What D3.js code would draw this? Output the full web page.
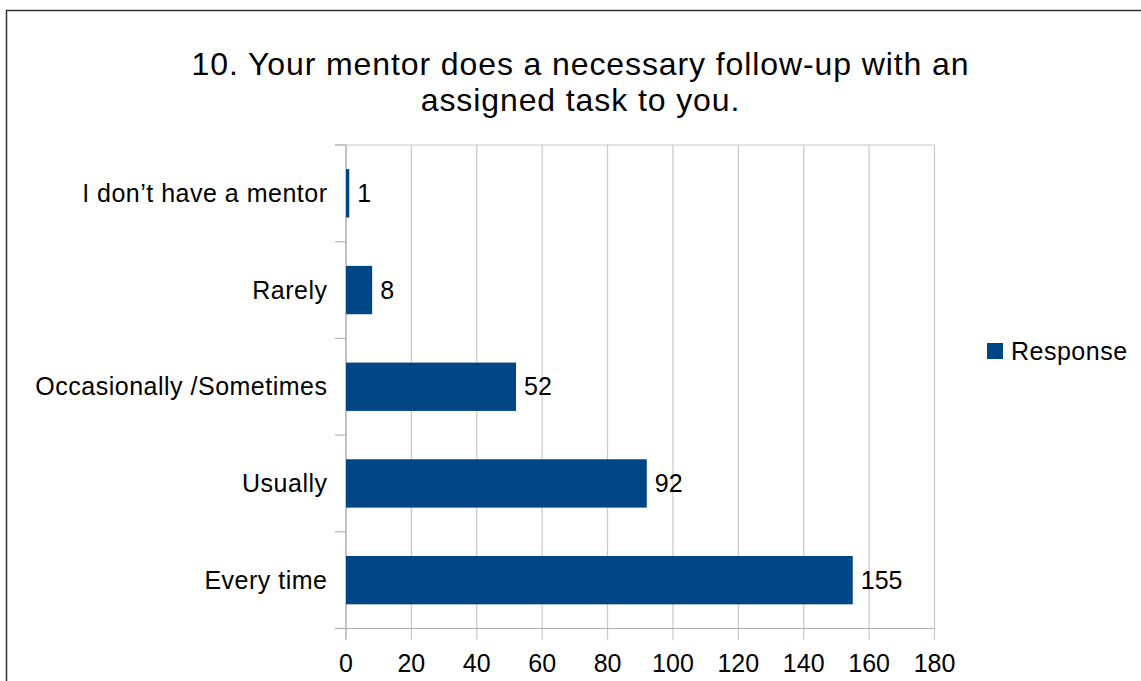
<!DOCTYPE html>
<html><head><meta charset="utf-8">
<script src="https://cdn.jsdelivr.net/npm/d3@7"></script>
<style>body{margin:0;background:#fff}svg{display:block;font-family:"Liberation Sans",Arial,sans-serif}</style>
</head><body>
<svg id="c" width="1141" height="681"></svg>
<script>
const categories = ["I don\u2019t have a mentor", "Rarely", "Occasionally /Sometimes", "Usually", "Every time"];
const values = [1, 8, 52, 92, 155];
const xTicks = [0, 20, 40, 60, 80, 100, 120, 140, 160, 180];
const titleLines = ["10. Your mentor does a necessary follow-up with an", "assigned task to you."];
const seriesName = "Response";

(function () {
const svg = d3.select("#c");
const color = "#004586";
const pLeft = 346, pRight = 934.5, pTop = 145, pBottom = 628.5;

svg.append("rect").attr("x", 6.5).attr("y", 10.5).attr("width", 1200).attr("height", 800)
  .attr("fill", "none").attr("stroke", "#333").attr("stroke-width", 1.5);

svg.selectAll("text.title").data(titleLines).enter().append("text")
  .attr("x", 580.5).attr("y", (d, i) => 75 + i * 36)
  .attr("text-anchor", "middle").attr("font-size", 32).attr("letter-spacing", 0.9)
  .attr("fill", "#000").text(d => d);

const x = d3.scaleLinear().domain([0, 180]).range([pLeft, pRight]);
const y = d3.scaleBand().domain(categories).range([pTop, pBottom]).paddingInner(0.5).paddingOuter(0.25);

svg.append("g").selectAll("line").data(xTicks).enter().append("line")
  .attr("x1", d => x(d)).attr("x2", d => x(d)).attr("y1", pTop).attr("y2", pBottom + 11)
  .attr("stroke", "#c8c8c8").attr("stroke-width", 1.2);
svg.append("line").attr("x1", pLeft - 11).attr("x2", pRight).attr("y1", pTop).attr("y2", pTop)
  .attr("stroke", "#c8c8c8").attr("stroke-width", 1.2);
svg.append("line").attr("x1", pLeft - 11).attr("x2", pRight).attr("y1", pBottom).attr("y2", pBottom)
  .attr("stroke", "#b3b3b3").attr("stroke-width", 1.2);
const step = (pBottom - pTop) / categories.length;
svg.append("g").selectAll("line").data(d3.range(categories.length + 1)).enter().append("line")
  .attr("x1", pLeft - 11).attr("x2", pLeft).attr("y1", i => pTop + i * step).attr("y2", i => pTop + i * step)
  .attr("stroke", "#b3b3b3").attr("stroke-width", 1.2);
svg.append("line").attr("x1", pLeft).attr("x2", pLeft).attr("y1", pTop).attr("y2", pBottom + 11)
  .attr("stroke", "#b3b3b3").attr("stroke-width", 1.2);

svg.append("g").selectAll("text").data(xTicks).enter().append("text")
  .attr("x", d => x(d)).attr("y", 672).attr("text-anchor", "middle")
  .attr("font-size", 25).attr("fill", "#000").text(d => d);

svg.append("g").selectAll("text").data(categories).enter().append("text")
  .attr("x", 327.5).attr("y", d => y(d) + y.bandwidth() / 2 + 8.5).attr("text-anchor", "end")
  .attr("font-size", 25).attr("letter-spacing", 0.5).attr("fill", "#000").text(d => d);

svg.append("g").selectAll("rect").data(values).enter().append("rect")
  .attr("x", x(0)).attr("y", (d, i) => y(categories[i]))
  .attr("width", d => x(d) - x(0)).attr("height", y.bandwidth()).attr("fill", color);

svg.append("g").selectAll("text").data(values).enter().append("text")
  .attr("x", d => x(d) + 8).attr("y", (d, i) => y(categories[i]) + y.bandwidth() / 2 + 8.5)
  .attr("font-size", 25).attr("fill", "#000").text(d => d);

svg.append("rect").attr("x", 987).attr("y", 343).attr("width", 16).attr("height", 16).attr("fill", color);
svg.append("text").attr("x", 1011).attr("y", 359.5).attr("font-size", 25).attr("letter-spacing", 0.5)
  .attr("fill", "#000").text(seriesName);
})();
</script>
</body></html>
